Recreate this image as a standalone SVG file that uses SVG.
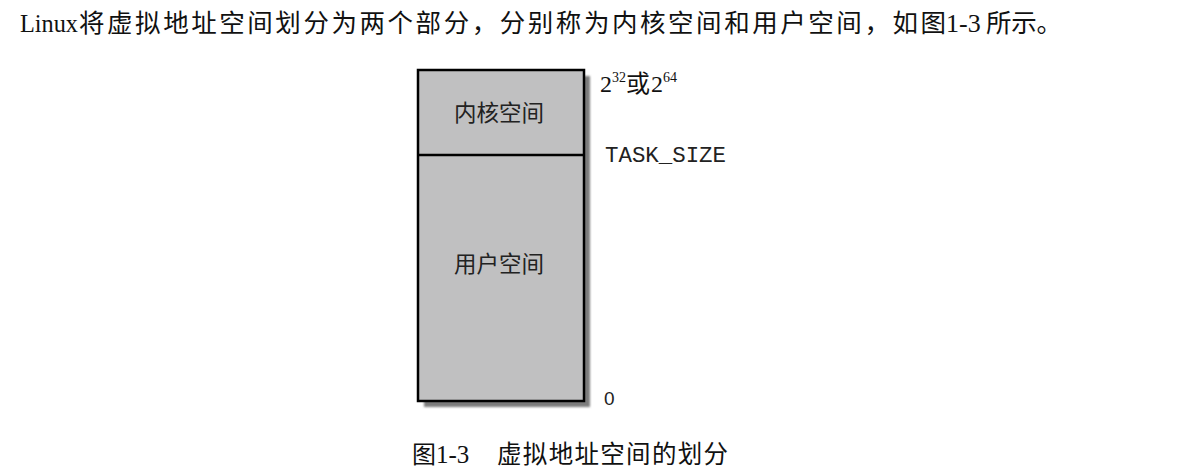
<svg xmlns="http://www.w3.org/2000/svg" width="1178" height="476" viewBox="0 0 1178 476">
  <style>
    .serif { font-family: "Liberation Serif", "Noto Sans CJK SC", serif; fill: #111; }
    .cjk { font-family: "Liberation Serif", "Noto Sans CJK SC", serif; fill: #222; }
    .mono { font-family: "Liberation Mono", monospace; fill: #222; }
    .sans { font-family: "Liberation Sans", sans-serif; fill: #222; }
    .box { fill: #c0c0c1; stroke: #000; stroke-width: 2.5; }
    .shadow { fill: #7c7c7c; }
  </style>
  <defs>
    <filter id="blur" x="-10%" y="-10%" width="120%" height="120%">
      <feGaussianBlur stdDeviation="1"/>
    </filter>
  </defs>
  <rect width="1178" height="476" fill="#ffffff"/>

  <g id="intro-text">
    <text class="serif" y="32" font-size="25">
      <tspan x="20" textLength="58" lengthAdjust="spacingAndGlyphs">Linux</tspan><tspan x="79" font-size="25.5" textLength="867" lengthAdjust="spacing">将虚拟地址空间划分为两个部分，分别称为内核空间和用户空间，如图</tspan><tspan x="946" font-size="26">1-3</tspan><tspan x="986" font-size="25.5" textLength="76" lengthAdjust="spacing">所示。</tspan>
    </text>
  </g>

  <g id="address-space">
    <rect class="shadow" x="424" y="76" width="166" height="331" filter="url(#blur)"/>
    <rect class="box" x="418" y="70" width="166" height="331"/>
  </g>

  <g id="kernel-space">
    <text class="cjk" x="499" y="121" font-size="22.5" text-anchor="middle">内核空间</text>
  </g>

  <g id="user-space">
    <text class="cjk" x="499" y="272" font-size="22.5" text-anchor="middle">用户空间</text>
  </g>

  <g id="connectors">
    <line x1="418" y1="155" x2="584" y2="155" stroke="#000" stroke-width="2.5"/>
  </g>

  <g id="labels">
    <text class="serif" y="92" font-size="24"><tspan x="600">2</tspan><tspan x="612" y="82" font-size="14">32</tspan><tspan x="626" y="92" font-size="24">或</tspan><tspan x="651" y="92">2</tspan><tspan x="663" y="82" font-size="14">64</tspan></text>
    <text class="mono" x="605" y="162" font-size="22" textLength="121" lengthAdjust="spacingAndGlyphs">TASK_SIZE</text>
    <text class="sans" x="604" y="405" font-size="19">0</text>
  </g>

  <g id="caption">
    <text class="serif" y="463" font-size="24"><tspan x="412">图</tspan><tspan x="436" font-size="25">1-3</tspan><tspan x="497" font-size="24.5" textLength="231" lengthAdjust="spacing">虚拟地址空间的划分</tspan></text>
  </g>
</svg>
